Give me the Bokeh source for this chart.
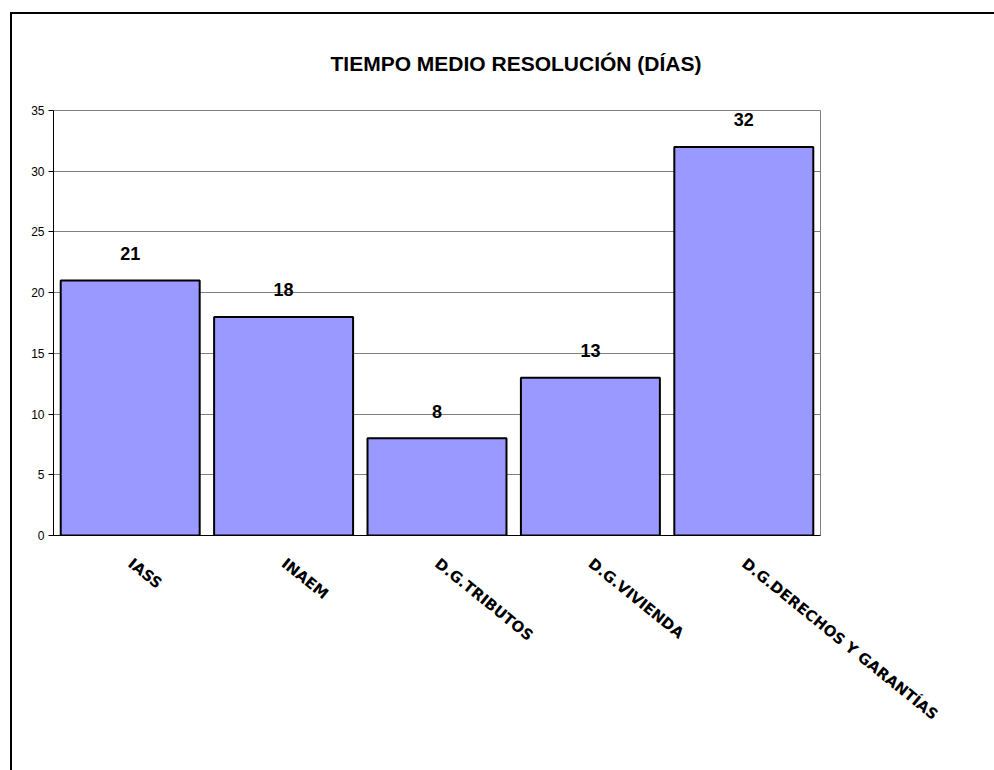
from bokeh.plotting import figure
from bokeh.models import ColumnDataSource, LabelSet, FactorRange, Range1d, FixedTicker
from bokeh.core.properties import value
from bokeh.embed import file_html
from bokeh.resources import INLINE

categories = ["IASS", "INAEM", "D.G.TRIBUTOS", "D.G.VIVIENDA", "D.G.DERECHOS Y GARANTÍAS"]
values = [21, 18, 8, 13, 32]
y_ticks = [0, 5, 10, 15, 20, 25, 30, 35]
title_text = "TIEMPO MEDIO RESOLUCIÓN (DÍAS)"

src = ColumnDataSource(dict(cat=categories, val=values, lab=[str(v) for v in values]))

p = figure(width=982, height=756, output_backend="svg", toolbar_location=None,
           x_range=FactorRange(*categories, range_padding=0), y_range=Range1d(0, 35),
           min_border_left=41, min_border_right=176, min_border_top=96, min_border_bottom=237,
           margin=(12, 0, 0, 10),
           styles={"border-left": "2px solid black", "border-top": "2px solid black",
                   "box-sizing": "content-box"})
p.background_fill_color = "white"
p.border_fill_color = "white"
p.outline_line_color = "#808080"
p.outline_line_width = 1

p.title.text = title_text
p.title.align = "left"
p.title.offset = 277
p.title.text_font = "Liberation Sans"
p.title.text_font_style = "bold"
p.title.text_font_size = "21px"
p.title.vertical_align = "top"
p.title.text_color = "black"
p.title.standoff = 68

p.vbar(x="cat", top="val", width=0.906, source=src, fill_color="#9999FF",
       line_color="black", line_width=2)

p.xgrid.grid_line_color = None
p.ygrid.grid_line_color = "#808080"
p.ygrid.ticker = FixedTicker(ticks=y_ticks)
p.yaxis.ticker = FixedTicker(ticks=y_ticks)
p.yaxis.axis_line_color = "black"
p.yaxis.major_tick_line_color = "black"
p.yaxis.major_tick_out = 5
p.yaxis.major_tick_in = 0
p.yaxis.minor_tick_line_color = None
p.yaxis.major_label_text_font = "Liberation Sans"
p.yaxis.major_label_text_font_size = "12px"
p.yaxis.major_label_text_color = "black"
p.yaxis.major_label_standoff = 4

p.xaxis.axis_line_color = "black"
p.xaxis.major_tick_line_color = None
p.xaxis.major_label_orientation = -0.68
p.xaxis.major_label_text_font = "DejaVu Sans"
p.xaxis.major_label_text_font_style = "bold"
p.xaxis.major_label_text_font_size = "15px"
p.xaxis.major_label_text_color = "black"
p.xaxis.major_label_standoff = 20

labels = LabelSet(x="cat", y="val", text="lab", source=src, text_align="center",
                  text_baseline="middle", y_offset=27, text_font=value("Liberation Sans"),
                  text_font_style="bold", text_font_size="18px", text_color="black")
p.add_layout(labels)

open("out.html", "w").write(file_html(p, INLINE))
